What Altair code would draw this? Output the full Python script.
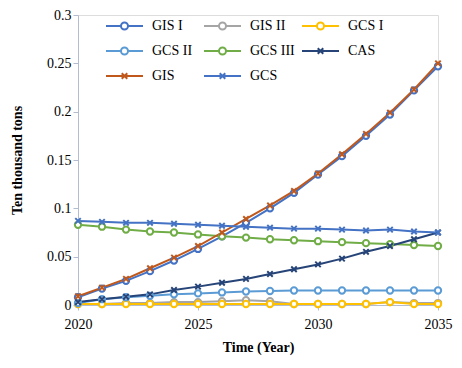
import altair as alt
import pandas as pd

years = list(range(2020, 2036))
series_names = ["GIS I", "GIS II", "GCS I", "GCS II", "GCS III", "CAS", "GIS", "GCS"]
colors = ["#4472C4", "#A5A5A5", "#FFC000", "#5B9BD5", "#70AD47", "#264478", "#C0581C", "#4472C4"]

gis_i = [0.008, 0.017, 0.025, 0.035, 0.046, 0.058, 0.071, 0.085, 0.100, 0.116, 0.135, 0.154, 0.175, 0.197, 0.222, 0.247]
gis_ii = [0.001, 0.001, 0.002, 0.002, 0.003, 0.003, 0.004, 0.005, 0.004, 0.001, 0.001, 0.001, 0.001, 0.003, 0.002, 0.002]
gcs_i = [0.001, 0.001, 0.001, 0.001, 0.001, 0.001, 0.001, 0.001, 0.001, 0.001, 0.001, 0.001, 0.001, 0.003, 0.001, 0.001]
gcs_ii = [0.002, 0.006, 0.008, 0.0095, 0.011, 0.012, 0.013, 0.014, 0.0145, 0.015, 0.015, 0.015, 0.015, 0.015, 0.015, 0.015]
gcs_iii = [0.083, 0.081, 0.078, 0.076, 0.075, 0.073, 0.071, 0.0697, 0.068, 0.067, 0.066, 0.065, 0.064, 0.063, 0.062, 0.061]
cas = [0.003, 0.006, 0.0086, 0.011, 0.0155, 0.019, 0.023, 0.027, 0.032, 0.037, 0.042, 0.048, 0.055, 0.061, 0.068, 0.075]
gis = [0.009, 0.018, 0.027, 0.038, 0.049, 0.061, 0.075, 0.089, 0.103, 0.118, 0.136, 0.156, 0.177, 0.199, 0.223, 0.250]
gcs = [0.087, 0.086, 0.085, 0.085, 0.084, 0.083, 0.082, 0.081, 0.080, 0.079, 0.079, 0.078, 0.077, 0.078, 0.076, 0.075]

all_values = [gis_i, gis_ii, gcs_i, gcs_ii, gcs_iii, cas, gis, gcs]
circle_series = ["GIS I", "GIS II", "GCS I", "GCS II", "GCS III"]
cross_series = ["CAS", "GIS", "GCS"]

rows = []
for name, vals in zip(series_names, all_values):
    for y, v in zip(years, vals):
        rows.append({"series": name, "year": y, "value": v})
df = pd.DataFrame(rows)

FONT = "Liberation Serif"
X_PATH = "M-1,-1L1,1M-1,1L1,-1"
LEG_CIRCLE = ("M-1,0L-0.19,0M0.19,0L1,0"
              "M-0.19,0A0.19,0.19 0 1,1 0.19,0A0.19,0.19 0 1,1 -0.19,0Z")
LEG_CROSS = "M-1,0L1,0M-0.15,-0.15L0.15,0.15M-0.15,0.15L0.15,-0.15"
legend_shapes = [LEG_CIRCLE if s in circle_series else LEG_CROSS for s in series_names]

color_scale = alt.Scale(domain=series_names, range=colors)

x_enc = alt.X("year:Q", scale=alt.Scale(domain=[2020, 2035], nice=False),
              axis=alt.Axis(values=[2020, 2025, 2030, 2035], format="d", title="Time (Year)",
                            grid=False, domainColor="#B4BDD0", tickColor="#B4BDD0", tickSize=5,
                            labelFlush=False, labelFont=FONT, labelFontSize=14,
                            labelColor="black", labelPadding=7,
                            titleFont=FONT, titleFontSize=14, titleFontWeight="bold",
                            titleColor="black", titlePadding=9))
y_enc = alt.Y("value:Q", scale=alt.Scale(domain=[0, 0.3], nice=False),
              axis=alt.Axis(values=[0, 0.05, 0.1, 0.15, 0.2, 0.25, 0.3], format="~g",
                            title="Ten thousand tons", grid=False, domainColor="#B4BDD0",
                            tickColor="#B4BDD0", tickSize=5, labelFlush=False, labelFont=FONT,
                            labelFontSize=14, labelColor="black", labelPadding=2,
                            titleFont=FONT, titleFontSize=14, titleFontWeight="bold",
                            titleColor="black", titlePadding=22))

base = alt.Chart(df)

lines = base.mark_line(strokeWidth=2).encode(
    x=x_enc, y=y_enc,
    color=alt.Color("series:N", scale=color_scale, legend=None),
    order="year:Q",
)

circles = base.transform_filter(
    alt.FieldOneOfPredicate(field="series", oneOf=circle_series)
).mark_point(shape="circle", filled=False, fill="white", fillOpacity=1, size=40,
             strokeWidth=2, opacity=1).encode(
    x="year:Q", y="value:Q",
    color=alt.Color("series:N", scale=color_scale, legend=None),
)

crosses = base.transform_filter(
    alt.FieldOneOfPredicate(field="series", oneOf=cross_series)
).mark_point(shape=X_PATH, filled=False, size=30, strokeWidth=2, opacity=1).encode(
    x="year:Q", y="value:Q",
    color=alt.Color("series:N", scale=color_scale, legend=None),
)

leg = alt.Legend(title=None, orient="none", legendX=27, legendY=3, columns=3,
                 direction="horizontal", gridAlign="all", columnPadding=6, rowPadding=9,
                 clipHeight=16, padding=0, symbolSize=1369, symbolStrokeWidth=2,
                 labelOffset=8, labelFont=FONT, labelFontSize=14, labelColor="black")

legend_layer = base.transform_filter("false").mark_point(
    filled=False, strokeWidth=2, opacity=1).encode(
    x="year:Q", y="value:Q",
    color=alt.Color("series:N", scale=color_scale, legend=leg),
    shape=alt.Shape("series:N", scale=alt.Scale(domain=series_names, range=legend_shapes),
                    legend=leg),
)

chart = alt.layer(lines, circles, crosses, legend_layer).resolve_scale(
    color="independent", shape="independent"
).resolve_legend(color="independent", shape="independent").properties(
    width=360, height=290,
    autosize=alt.AutoSizeParams(type="none"),
    padding={"left": 70, "top": 7, "right": 16, "bottom": 55},
).configure_view(stroke=None).configure(background="white")

chart.save("out.html", embed_options={"renderer": "svg", "actions": False})
